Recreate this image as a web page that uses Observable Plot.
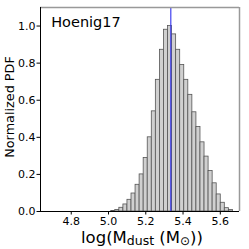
<!DOCTYPE html>
<html><head><meta charset="utf-8">
<script src="https://cdn.jsdelivr.net/npm/d3@7"></script>
<script src="https://cdn.jsdelivr.net/npm/@observablehq/plot@0.6"></script>
<style>html,body{margin:0;padding:0;background:#fff} svg{display:block}</style>
</head><body><div id="chart"></div>
<script>
const binStart = 5.0146;
const binWidth = 0.02177;
const pdf = [0.003, 0.008, 0.02, 0.038, 0.063, 0.097, 0.144, 0.20, 0.289, 0.40,
             0.54, 0.71, 0.872, 0.98, 1.0, 0.955, 0.872, 0.79, 0.71, 0.629,
             0.535, 0.456, 0.373, 0.296, 0.218, 0.152, 0.092, 0.047, 0.018, 0.008];
const medianValue = 5.334;
const xTicks = [4.8, 5.0, 5.2, 5.4, 5.6];
const yTicks = [0, 0.2, 0.4, 0.6, 0.8, 1.0];
const panelLabel = "Hoenig17";
const yLabel = "Normalized PDF";

const bins = pdf.map((v, i) => ({x1: binStart + i * binWidth, x2: binStart + (i + 1) * binWidth, y: v}));
const font = "'DejaVu Sans', sans-serif";
const xDom = [4.635, 5.703], yDom = [0, 1.1];

const chart = Plot.plot({
  width: 249, height: 249,
  marginLeft: 40, marginRight: 10, marginTop: 7, marginBottom: 38,
  x: {domain: xDom},
  y: {domain: yDom},
  style: {fontFamily: font, fontSize: "11px", color: "black", background: "white"},
  marks: [
    Plot.rectY(bins, {x1: "x1", x2: "x2", y: "y", fill: "#d0d0d0", stroke: "#555", strokeWidth: 0.8}),
    Plot.ruleX([medianValue], {stroke: "#3333ee", strokeOpacity: 0.75, strokeWidth: 1.5}),
    Plot.axisX({ticks: xTicks, tickFormat: d => d.toFixed(1), tickSize: 3.5, tickPadding: 2.4, label: null, fontSize: 11}),
    Plot.axisY({ticks: yTicks, tickFormat: d => d.toFixed(1), tickSize: 3.5, tickPadding: 1.5, label: null, fontSize: 11}),
    Plot.ruleY([yDom[1]], {stroke: "#999", strokeWidth: 1.5}),
    Plot.ruleX([xDom[1]], {stroke: "#999", strokeWidth: 1.5}),
    Plot.ruleY([0], {stroke: "black"}),
    Plot.ruleX([xDom[0]], {stroke: "black"}),
    Plot.text([panelLabel], {text: d => d, frameAnchor: "top-left", dx: 10.7, dy: 9, fontSize: 14.5, textAnchor: "start"})
  ]
});

const svg = d3.select(chart);
svg.append("text")
  .attr("transform", "translate(13.5,107) rotate(-90)")
  .attr("text-anchor", "middle")
  .attr("font-family", font)
  .attr("font-size", 12.8)
  .attr("fill", "black")
  .text(yLabel);

const xl = svg.append("text")
  .attr("x", 142).attr("y", 242.8)
  .attr("text-anchor", "middle")
  .attr("font-family", font)
  .attr("font-size", 16.5)
  .attr("fill", "black");
xl.append("tspan").text("log(M");
xl.append("tspan").attr("font-size", 12.5).attr("dy", 2.5).text("dust");
xl.append("tspan").attr("dy", -2.5).text(" (M");
xl.append("tspan").attr("font-size", 12).attr("dy", 2.5).text("⊙");
xl.append("tspan").attr("dy", -2.5).text("))");

document.getElementById("chart").appendChild(chart);
</script>
</body></html>
